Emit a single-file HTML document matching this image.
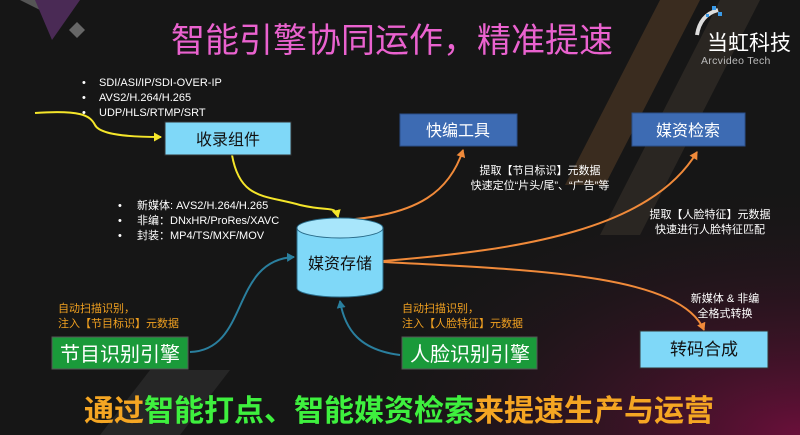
<!DOCTYPE html>
<html><head><meta charset="utf-8"><style>
body{margin:0;background:#161616;}
svg{display:block;font-family:"Liberation Sans","Noto Sans CJK SC",sans-serif;}
</style></head><body>
<svg width="800" height="435" viewBox="0 0 800 435" xmlns="http://www.w3.org/2000/svg">
<defs>
<radialGradient id="pg" cx="1" cy="1" r="0.6">
<stop offset="0" stop-color="#6a0f3a"/><stop offset="1" stop-color="#161616" stop-opacity="0"/></radialGradient>
<marker id="ay" markerUnits="userSpaceOnUse" markerWidth="9" markerHeight="9" refX="7" refY="4.5" orient="auto"><path d="M0,0 L8,4.5 L0,9z" fill="#f5e62a"/></marker>
<marker id="ao" markerUnits="userSpaceOnUse" markerWidth="9" markerHeight="9" refX="7" refY="4.5" orient="auto"><path d="M0,0 L8,4.5 L0,9z" fill="#f08a3a"/></marker>
<marker id="at" markerUnits="userSpaceOnUse" markerWidth="9" markerHeight="9" refX="7" refY="4.5" orient="auto"><path d="M0,0 L8,4.5 L0,9z" fill="#2a7f9e"/></marker>
</defs>
<rect width="800" height="435" fill="#161616"/>
<rect width="800" height="435" fill="url(#pg)"/>
<polygon points="660,0 700,0 605,185 565,185" fill="#3a2c1f"/>
<polygon points="720,0 760,0 640,235 600,235" fill="#2a2622"/>
<polygon points="20,0 60,0 50,15" fill="#555"/>
<polygon points="35,0 80,0 52,40" fill="#4a2a55"/>
<polygon points="77,22 85,30 77,38 69,30" fill="#666"/>
<polygon points="150,370 230,370 180,435 100,435" fill="#262626"/>
<text x="392" y="52" text-anchor="middle" font-size="34" fill="#ea62cf">智能引擎协同运作，精准提速</text>
<text x="707" y="50" font-size="21" fill="#fff">当虹科技</text>
<text x="701" y="64" font-size="10.5" fill="#bbb" letter-spacing="0.3">Arcvideo Tech</text>
<path d="M697,35 Q700,15 718,10" stroke="#ddd" stroke-width="4" fill="none"/>
<rect x="712" y="6" width="4" height="4" fill="#3a9ae8"/><rect x="718" y="12" width="4" height="4" fill="#3a9ae8"/><rect x="706" y="14" width="3" height="3" fill="#3a9ae8"/>
<g font-size="11" fill="#fff">
<text x="82" y="86">•</text><text x="99" y="86">SDI/ASI/IP/SDI-OVER-IP</text>
<text x="82" y="101">•</text><text x="99" y="101">AVS2/H.264/H.265</text>
<text x="82" y="116">•</text><text x="99" y="116">UDP/HLS/RTMP/SRT</text>
<text x="118" y="209">•</text><text x="137" y="209">新媒体: AVS2/H.264/H.265</text>
<text x="118" y="224">•</text><text x="137" y="224">非编：DNxHR/ProRes/XAVC</text>
<text x="118" y="239">•</text><text x="137" y="239">封装：MP4/TS/MXF/MOV</text>
<text x="540" y="174" text-anchor="middle">提取【节目标识】元数据</text>
<text x="540" y="189" text-anchor="middle">快速定位“片头/尾”、“广告”等</text>
<text x="710" y="218" text-anchor="middle">提取【人脸特征】元数据</text>
<text x="710" y="233" text-anchor="middle">快速进行人脸特征匹配</text>
<text x="725" y="302" text-anchor="middle">新媒体 &amp; 非编</text>
<text x="725" y="317" text-anchor="middle">全格式转换</text>
</g>
<g font-size="11" fill="#f0a020">
<text x="58" y="312">自动扫描识别，</text><text x="58" y="327">注入【节目标识】元数据</text>
<text x="402" y="312">自动扫描识别，</text><text x="402" y="327">注入【人脸特征】元数据</text>
</g>
<g fill="none" stroke-width="2">
<path d="M35,113 C80,110 90,115 95,125 C100,135 130,137 161,137" stroke="#f5e62a" marker-end="url(#ay)"/>
<path d="M232,155 C240,200 265,195 300,205 C330,212 335,205 338,217" stroke="#f5e62a" marker-end="url(#ay)"/>
<path d="M344,220 C420,215 450,190 463,150" stroke="#f08a3a" marker-end="url(#ao)"/>
<path d="M383,261 C520,250 650,230 697,152" stroke="#f08a3a" marker-end="url(#ao)"/>
<path d="M383,262 C540,270 680,275 704,330" stroke="#f08a3a" marker-end="url(#ao)"/>
<path d="M190,352 C250,350 230,260 294,257" stroke="#2a7f9e" marker-end="url(#at)"/>
<path d="M400,355 C360,350 345,330 340,301" stroke="#2a7f9e" marker-end="url(#at)"/>
</g>
<rect x="165" y="122" width="126" height="33" fill="#7fd8f8" stroke="#333"/>
<text x="228" y="145" text-anchor="middle" font-size="16" fill="#111">收录组件</text>
<rect x="400" y="114" width="117" height="32" fill="#3d6bb3" stroke="#2b4f8a"/>
<text x="458" y="136" text-anchor="middle" font-size="16" fill="#fff">快编工具</text>
<rect x="632" y="113" width="113" height="33" fill="#3d6bb3" stroke="#2b4f8a"/>
<text x="688" y="136" text-anchor="middle" font-size="16" fill="#fff">媒资检索</text>
<path d="M297,228 L297,288 A43,9 0 0 0 383,288 L383,228" fill="#7fd8f8" stroke="#2a6c8a"/>
<ellipse cx="340" cy="228" rx="43" ry="10" fill="#a8e6fb" stroke="#2a6c8a"/>
<text x="340" y="269" text-anchor="middle" font-size="16" fill="#111">媒资存储</text>
<rect x="52" y="337" width="136" height="32" fill="#1a9a3a" stroke="#555"/>
<text x="120" y="361" text-anchor="middle" font-size="20" fill="#fff">节目识别引擎</text>
<rect x="402" y="337" width="135" height="32" fill="#1a9a3a" stroke="#555"/>
<text x="470" y="361" text-anchor="middle" font-size="20" fill="#fff">人脸识别引擎</text>
<rect x="640" y="331" width="128" height="37" fill="#7fd8f8" stroke="#333"/>
<text x="704" y="355" text-anchor="middle" font-size="17" fill="#111">转码合成</text>
<text x="399" y="421" text-anchor="middle" font-size="30" font-weight="bold" fill="#f5a623">通过<tspan fill="#3ef03e">智能打点、智能媒资检索</tspan>来提速生产与运营</text>
</svg>
</body></html>
